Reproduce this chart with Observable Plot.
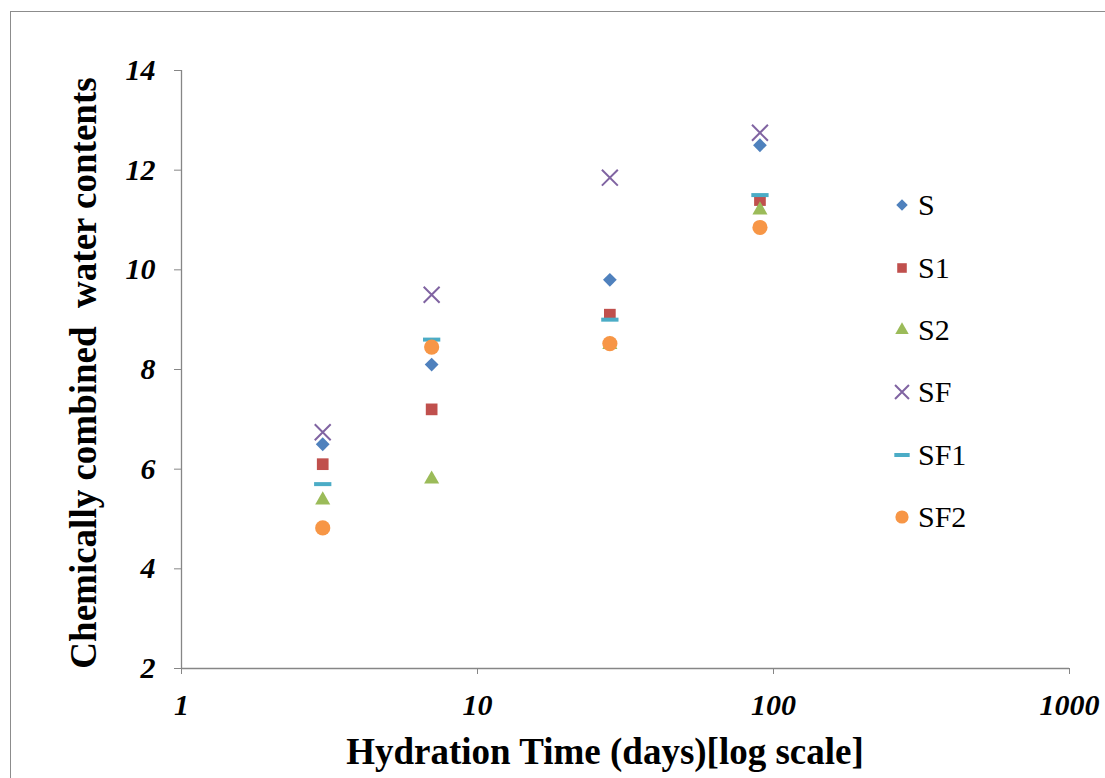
<!DOCTYPE html>
<html>
<head>
<meta charset="utf-8">
<script src="https://cdn.jsdelivr.net/npm/d3@7"></script>
<script src="https://cdn.jsdelivr.net/npm/@observablehq/plot@0.6"></script>
<style>
  html, body { margin: 0; padding: 0; background: #fff; overflow: hidden; width: 1105px; height: 778px; }
  #wrap { position: relative; width: 1105px; height: 778px; overflow: hidden; }
  #border { position: absolute; left: 10px; top: 11px; width: 1200px; height: 900px; border: 1.5px solid #8c8c8c; box-sizing: border-box; }
  #chart { position: absolute; left: 0; top: 0; }
  #chart svg text { font-family: "Liberation Serif", "Times New Roman", serif !important; font-size: 30px !important; font-weight: bold !important; font-style: italic !important; fill: #000; }
  .ytitle { position: absolute; left: 83px; top: 373px; transform: translate(-50%, -50%) rotate(-90deg); white-space: nowrap;
    font-family: "Liberation Serif", "Times New Roman", serif; font-weight: bold; font-size: 37px; color: #000; line-height: 1; }
  .xtitle { position: absolute; left: 605px; top: 751px; transform: translate(-50%, -50%); white-space: nowrap;
    font-family: "Liberation Serif", "Times New Roman", serif; font-weight: bold; font-size: 37px; color: #000; line-height: 1; }
  #legend { position: absolute; left: 890px; top: 174px; font-family: "Liberation Serif", "Times New Roman", serif; font-size: 30px; color: #000; }
  #legend .row { display: flex; align-items: center; height: 62.4px; line-height: 1; }
  #legend svg { width: 24px; height: 24px; margin-right: 4px; }
</style>
</head>
<body>
<div id="wrap">
  <div id="border"></div>
  <div id="chart"></div>
  <div class="ytitle">Chemically combined&nbsp; water contents</div>
  <div class="xtitle">Hydration Time (days)[log scale]</div>
  <div id="legend"></div>
</div>
<script>
// ---- data ----
const days = [3, 7, 28, 90];
const seriesNames = ["S", "S1", "S2", "SF", "SF1", "SF2"];
const S   = [6.5, 8.1, 9.8, 12.5];
const S1  = [6.1, 7.2, 9.1, 11.4];
const S2  = [5.38, 5.8, 8.5, 11.2];
const SF  = [6.74, 9.5, 11.85, 12.75];
const SF1 = [5.7, 8.6, 9.0, 11.5];
const SF2 = [4.82, 8.45, 8.52, 10.85];
const xTicks = [1, 10, 100, 1000];
const yTicks = [2, 4, 6, 8, 10, 12, 14];
const colors = ["#4F81BD", "#C0504D", "#9BBB59", "#8064A2", "#4BACC6", "#F79646"];

const values = [S, S1, S2, SF, SF1, SF2];

// custom dash symbol
const dashSymbol = {
  draw(context, size) {
    const r = Math.sqrt(size / Math.PI);
    const w = r * 1.2, h = 2;
    context.moveTo(-w, -h); context.lineTo(w, -h); context.lineTo(w, h); context.lineTo(-w, h); context.closePath();
  }
};
const symbols = [d3.symbolDiamond2, d3.symbolSquare, d3.symbolTriangle, d3.symbolTimes, dashSymbol, d3.symbolCircle];
const radii = [6.2, 6.6, 5.6, 7.3, 7.2, 7.6];
const isStroke = [false, false, false, true, false, false];

const marks = [];
marks.push(Plot.ruleX([1], {stroke: "#868686", strokeWidth: 1.3}));
marks.push(Plot.ruleY([2], {stroke: "#868686", strokeWidth: 1.3}));
marks.push(Plot.axisY({ticks: yTicks, tickSize: 7, tickPadding: 19, stroke: "#868686", tickFormat: d => String(d), label: null}));
marks.push(Plot.axisX({ticks: xTicks, tickSize: 6, tickPadding: 19, stroke: "#868686", tickFormat: d => String(d), label: null}));

seriesNames.forEach((name, i) => {
  const data = days.map((d, j) => ({day: d, value: values[i][j], series: name}));
  const opts = {x: "day", y: "value", symbol: symbols[i], r: radii[i]};
  if (isStroke[i]) { opts.stroke = colors[i]; opts.strokeWidth = 2; opts.fill = "none"; }
  else { opts.fill = colors[i]; opts.stroke = "none"; }
  marks.push(Plot.dot(data, opts));
});

const chart = Plot.plot({
  width: 1105,
  height: 778,
  marginLeft: 181,
  marginRight: 36,
  marginTop: 70,
  marginBottom: 110,
  x: {type: "log", domain: [1, 1000]},
  y: {domain: [2, 14]},
  style: "font-family: 'Liberation Serif', 'Times New Roman', serif; font-size: 30px; font-weight: bold; font-style: italic; background: transparent; color: #000; overflow: visible;",
  marks
});
document.getElementById("chart").appendChild(chart);

// legend
const legend = document.getElementById("legend");
const legendR = [5.2, 5.4, 5.0, 6.4, 6.4, 6.6];
seriesNames.forEach((name, i) => {
  const row = document.createElement("div");
  row.className = "row";
  const svg = d3.create("svg").attr("viewBox", "-12 -12 24 24");
  const size = Math.PI * legendR[i] * legendR[i];
  const p = svg.append("path").attr("d", d3.symbol(symbols[i], size)());
  if (isStroke[i]) p.attr("fill", "none").attr("stroke", colors[i]).attr("stroke-width", 2);
  else p.attr("fill", colors[i]);
  row.appendChild(svg.node());
  const t = document.createElement("span");
  t.textContent = name;
  row.appendChild(t);
  legend.appendChild(row);
});
</script>
</body>
</html>
